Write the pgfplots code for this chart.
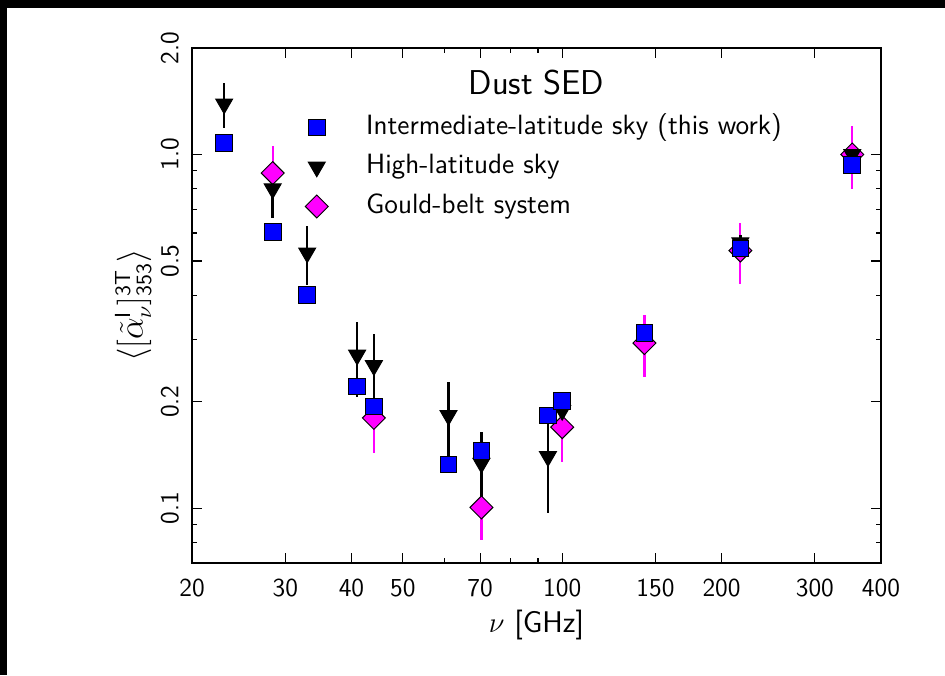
\documentclass[border=0pt]{standalone}
\usepackage{pgfplots}
\pgfplotsset{compat=1.18}
\usepackage{pgfplotstable}
\definecolor{mag}{RGB}{255,0,255}
\definecolor{blu}{RGB}{0,0,255}

\pgfplotstableread{
x y e
23 1.08 0.02
28.4 0.603 0.01
33 0.401 0.01
41 0.221 0.005
44.1 0.194 0.005
61 0.133 0.007
70.4 0.145 0.005
94 0.183 0.005
100 0.201 0.005
143 0.313 0.005
217 0.542 0.01
353 0.935 0.02
}\interm

\pgfplotstableread{
x y e
23 1.39 0.2
28.4 0.80 0.14
33 0.527 0.1
41 0.271 0.065
44.1 0.253 0.057
61 0.183 0.045
70.4 0.134 0.03
94 0.140 0.043
100 0.189 0.02
217 0.563 0.03
353 1.0 0.03
}\highlat

\pgfplotstableread{
x y e
28.4 0.886 0.17
44.1 0.180 0.037
70.4 0.1005 0.019
100 0.1695 0.034
143 0.293 0.058
217 0.535 0.105
353 1.0 0.2
}\gould

\begin{document}
\begin{tikzpicture}[x=1bp,y=1bp]
\useasboundingbox (0,0) rectangle (472.5,337.5);
\fill[black] (0,333.5) rectangle (472.5,337.5);
\fill[black] (0,0) rectangle (3.5,337.5);
\begin{axis}[
  at={(96bp,56bp)}, anchor=south west,
  scale only axis, width=344.5bp, height=257.5bp,
  xmode=log, ymode=log,
  xmin=20, xmax=400, ymin=0.07, ymax=2.0,
  axis line style={line width=1.2bp},
  every tick/.style={black, line width=0.6bp},
  major tick length=5bp, minor tick length=2.5bp,
  tick align=inside,
  xtick={20,30,40,50,70,100,150,200,300,400},
  xticklabels={20,30,40,50,70,100,150,200,300,400},
  minor xtick={60,80,90},
  ytick={0.1,0.2,0.5,1.0,2.0},
  yticklabels={0.1,0.2,0.5,1.0,2.0},
  minor ytick={0.08,0.09,0.3,0.4,0.6,0.7,0.8,0.9},
  xticklabel style={font=\sffamily\fontsize{13}{15}\selectfont, anchor=north, inner sep=0pt, outer sep=0pt, yshift=-8bp},
  yticklabel style={font=\sffamily\fontsize{13}{15}\selectfont, rotate=90, anchor=south, inner sep=6.5bp, outer sep=0pt},
  xlabel={$\nu$ \textsf{[GHz]}},
  xlabel style={font=\sffamily\fontsize{15}{17}\selectfont, at={(axis description cs:0.5,0)}, anchor=center, yshift=-31bp},
  ylabel={$\langle[\tilde{\alpha}^{\mathsf{I}}_{\nu}]^{\mathsf{3T}}_{\mathsf{353}}\rangle$},
  ylabel style={font=\fontsize{16}{19}\selectfont, at={(axis description cs:0,0.5)}, anchor=center, yshift=29.5bp},
  legend style={draw=none, fill=none, at={(axis description cs:0.1567,0.769)}, anchor=west,
     inner sep=0pt, font=\sffamily\fontsize{14}{16}\selectfont,
     nodes={inner xsep=0pt, inner ysep=0pt, text height=10.5bp, text depth=3.5bp},
     column sep=16.5bp, row sep=5.75bp},
  legend cell align=left,
  legend image code/.code={\path (0bp,0bp) (16bp,0bp); \draw[#1, mark repeat=2, mark phase=2] plot coordinates {(0bp,0bp) (8bp,0bp) (16bp,0bp)};},
]
% Gould belt (drawn first)
\addplot[forget plot, only marks, mark=square*, mark size=4.07pt, mark options={rotate=45, fill=mag, draw=black, line width=0.5bp},
  error bars/.cd, y dir=both, y explicit, error mark=none, error bar style={line width=1.1bp, mag}]
  table[x=x, y=y, y error=e] {\gould};
% High latitude
\addplot[forget plot, only marks, mark=triangle*, mark size=4.9pt, mark options={rotate=180, fill=black, draw=black, line width=0.5bp},
  error bars/.cd, y dir=both, y explicit, error mark=none, error bar style={line width=1.3bp, black}]
  table[x=x, y=y, y error=e] {\highlat};
% Intermediate latitude
\addplot[forget plot, only marks, mark=square*, mark size=4.2pt, mark options={fill=blu, draw=black, line width=0.5bp},
  error bars/.cd, y dir=both, y explicit, error mark=none, error bar style={line width=1.1bp, blu}]
  table[x=x, y=y, y error=e] {\interm};
\addlegendimage{only marks, mark=square*, mark size=4.2pt, mark options={fill=blu, draw=black, line width=0.5bp}}
\addlegendentry{Intermediate-latitude sky (this work)}
\addlegendimage{only marks, mark=triangle*, mark size=4.9pt, mark options={rotate=180, fill=black, draw=black, line width=0.5bp}}
\addlegendentry{High-latitude sky}
\addlegendimage{only marks, mark=square*, mark size=4.07pt, mark options={rotate=45, fill=mag, draw=black, line width=0.5bp}}
\addlegendentry{Gould-belt system}
\node[font=\sffamily\fontsize{17.3}{20}\selectfont] at (rel axis cs:0.5,0.932) {Dust SED};
\end{axis}
\end{tikzpicture}
\end{document}
